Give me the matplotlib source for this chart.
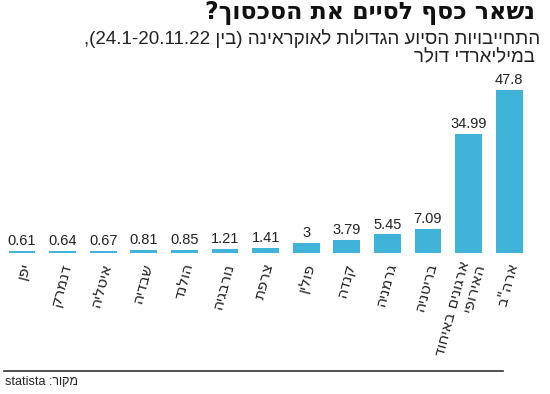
import matplotlib
matplotlib.use("Agg")
import matplotlib.pyplot as plt

# Data (logical Hebrew; rendered in visual order below)
categories = ["יפן", "דנמרק", "איטליה", "שבדיה", "הולנד", "נורבגיה", "צרפת",
              "פולין", "קנדה", "גרמניה", "בריטניה", "ארגונים באיחוד\nהאירופי", 'ארה"ב']
values = [0.61, 0.64, 0.67, 0.81, 0.85, 1.21, 1.41, 3, 3.79, 5.45, 7.09, 34.99, 47.8]
value_labels = ["0.61", "0.64", "0.67", "0.81", "0.85", "1.21", "1.41", "3", "3.79",
                "5.45", "7.09", "34.99", "47.8"]

title = "נשאר כסף לסיים את הסכסוך?"
subtitle1_visual = ",(24.1-20.11.22 " + "בין"[::-1] + ") " + "התחייבויות הסיוע הגדולות לאוקראינה"[::-1]
subtitle2 = "במיליארדי דולר"
source_visual = "statista :" + "מקור"[::-1]

def vis(s):
    # reverse each line of pure Hebrew text for left-to-right rendering
    return "\n".join(line[::-1] for line in s.split("\n"))

W, H = 550, 394
fig = plt.figure(figsize=(W / 100, H / 100), dpi=100)

bar_color = "#3fb3d8"
dv = dict(family=["DejaVu Sans"])
lib = dict(family=["Liberation Sans", "DejaVu Sans"])

# axes placement in pixels
x0, x_step = 22.0, 40.6
base_y = 253.0
px_per_unit = 3.41
ax_top = 70.0
ax = fig.add_axes([0, (H - base_y) / H, 1, (base_y - ax_top) / H])
n = len(values)
ax.set_xlim(-x0 / x_step, (W - x0) / x_step)
ax.set_ylim(0, (base_y - ax_top) / px_per_unit)
ax.axis("off")

xs = list(range(n))
ax.bar(xs, values, width=0.665, color=bar_color, edgecolor="none")
for x, v, lab in zip(xs, values, value_labels):
    ax.annotate(lab, (x, v), xytext=(0, 2), textcoords="offset points",
                ha="center", va="bottom", fontsize=10.5, color="#222222", **lib)

# category labels
for x, c in zip(xs, categories):
    px = (x0 + x * x_step + 4) / W
    fig.text(px, 1 - 263 / H, vis(c), rotation=75, rotation_mode="anchor",
             ha="right", va="center", fontsize=11, color="#222222",
             multialignment="right", linespacing=1.0, **dv)

# title and subtitle
fig.text(535 / W, 1 - 13 / H, vis(title), ha="right", va="center",
         fontsize=17, fontweight="bold", color="#111111", **dv)
fig.text(540 / W, 1 - 39 / H, subtitle1_visual, ha="right", va="center",
         fontsize=13.5, color="#222222", **lib)
fig.text(535 / W, 1 - 58 / H, vis(subtitle2), ha="right", va="center",
         fontsize=13.5, color="#222222", **lib)

# bottom rule and source
fig.add_artist(plt.Line2D([4 / W, 503 / W], [1 - 370.7 / H, 1 - 370.7 / H],
                          color="#333333", linewidth=1.2))
fig.text(5 / W, 1 - 382 / H, source_visual, ha="left", va="center",
         fontsize=9, color="#222222", **lib)

fig.savefig("out.png", dpi=100, facecolor="white")
